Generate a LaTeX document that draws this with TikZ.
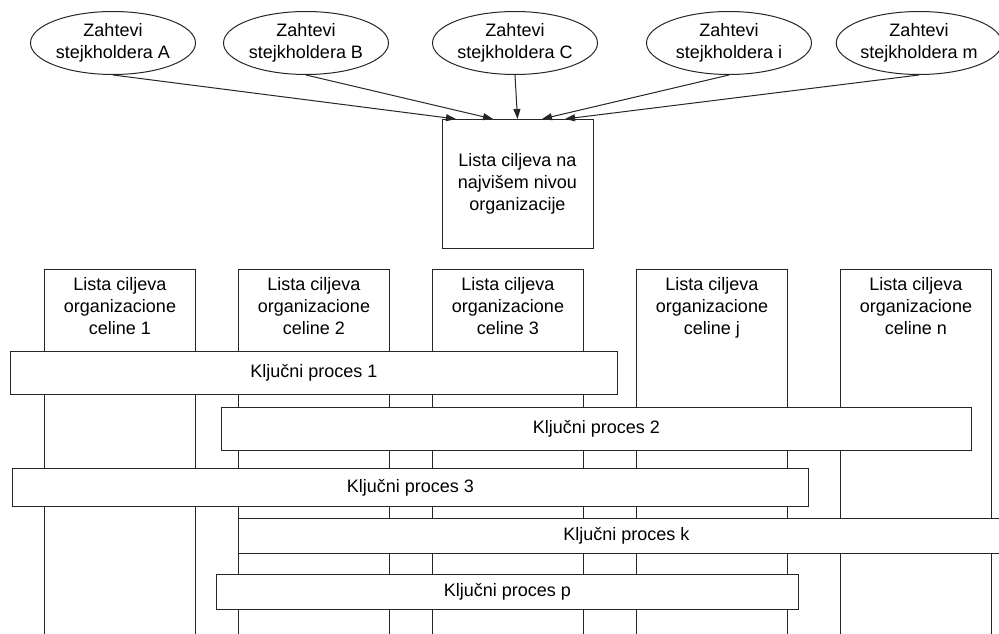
\documentclass[tikz,border=0pt]{standalone}
\usepackage{fontspec}
\setmainfont{Liberation Sans}
\usetikzlibrary{arrows.meta,shapes.geometric}
\begin{document}
\begin{tikzpicture}[x=1pt,y=-1pt,
  font=\fontsize{18}{22}\selectfont,
  every node/.style={text=black},
  ln/.style={draw=black!85, line width=1pt},
  stake/.style={ln, ellipse, minimum width=165pt, minimum height=63pt, inner sep=0pt, align=center},
  topbox/.style={ln, rectangle, minimum width=151pt, minimum height=129pt, inner sep=0pt, align=center},
  colbox/.style={ln, rectangle, anchor=north west, minimum width=151pt, minimum height=400pt, inner sep=0pt},
  coltext/.style={anchor=north, align=center, inner sep=0pt},
  bar/.style={ln, fill=white, rectangle, anchor=north west, inner sep=0pt},
  arr/.style={ln, -{Triangle[length=10pt,width=7pt]}}]
\clip (0,0) rectangle (999,634);
\fill[white] (0,0) rectangle (999,634);
% stakeholder ellipses
\node[stake] (eA) at (113,43) {Zahtevi\\stejkholdera A};
\node[stake] (eB) at (306,43) {Zahtevi\\stejkholdera B};
\node[stake] (eC) at (515,43) {Zahtevi\\stejkholdera C};
\node[stake] (eI) at (729,43) {Zahtevi\\stejkholdera i};
\node[stake] (eM) at (919,43) {Zahtevi\\stejkholdera m};
% top box
\node[topbox] (top) at (517.5,183.5) {Lista ciljeva na\\najvišem nivou\\organizacije};
\coordinate (tA) at (456,119);
\coordinate (tB) at (493,119);
\coordinate (tC) at (517.5,119);
\coordinate (tI) at (542,119);
\coordinate (tM) at (565,119);
\draw[arr] (eA.south) -- (tA);
\draw[arr] (eB.south) -- (tB);
\draw[arr] (eC.south) -- (tC);
\draw[arr] (eI.south) -- (tI);
\draw[arr] (eM.south) -- (tM);
% columns
\node[colbox] (c1) at (44,269) {};
\node[colbox] (c2) at (238,269) {};
\node[colbox] (c3) at (432,269) {};
\node[colbox] (cj) at (636,269) {};
\node[colbox] (cn) at (840,269) {};
\node[coltext] (t1) at ([yshift=-8pt]c1.north) {Lista ciljeva\\organizacione\\celine 1};
\node[coltext] (t2) at ([yshift=-8pt]c2.north) {Lista ciljeva\\organizacione\\celine 2};
\node[coltext] (t3) at ([yshift=-8pt]c3.north) {Lista ciljeva\\organizacione\\celine 3};
\node[coltext] (tj) at ([yshift=-8pt]cj.north) {Lista ciljeva\\organizacione\\celine j};
\node[coltext] (tn) at ([yshift=-8pt]cn.north) {Lista ciljeva\\organizacione\\celine n};
% key processes
\node[bar, minimum width=607pt, minimum height=43pt] (p1) at (10,351) {Ključni proces 1};
\node[bar, minimum width=750pt, minimum height=43pt] (p2) at (221,407) {Ključni proces 2};
\node[bar, minimum width=796pt, minimum height=38pt] (p3) at (12,468) {Ključni proces 3};
\node[bar, minimum width=776pt, minimum height=35pt] (pk) at (238,518) {Ključni proces k};
\node[bar, minimum width=582pt, minimum height=35pt] (pp) at (216,574) {Ključni proces p};
\end{tikzpicture}
\end{document}
